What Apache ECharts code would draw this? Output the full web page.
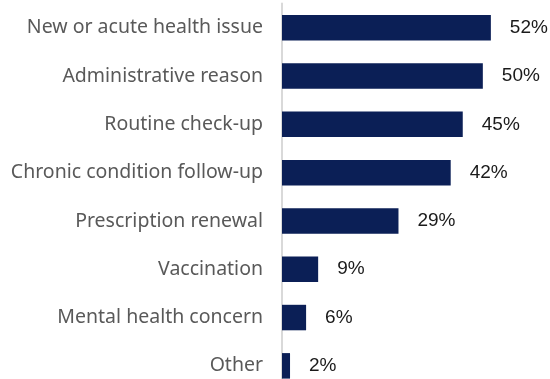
<!DOCTYPE html>
<html>
<head>
<meta charset="utf-8">
<style>
  html, body { margin: 0; padding: 0; background: #fff; }
  #chart { width: 550px; height: 379px; }
</style>
<script src="https://cdn.jsdelivr.net/npm/echarts@6/dist/echarts.min.js"></script>
</head>
<body>
<div id="chart"></div>
<script>
// Reasons for the visit, top to bottom
const categories = [
  'New or acute health issue',
  'Administrative reason',
  'Routine check-up',
  'Chronic condition follow-up',
  'Prescription renewal',
  'Vaccination',
  'Mental health concern',
  'Other'
];
// Share of respondents (%)
const values = [52, 50, 45, 42, 29, 9, 6, 2];

const chart = echarts.init(document.getElementById('chart'), null, { renderer: 'canvas' });

chart.setOption({
  animation: false,
  grid: {
    left: 282,
    top: 3.6,
    width: 241,
    height: 386.4,
    containLabel: false,
    outerBoundsMode: 'none'
  },
  xAxis: {
    type: 'value',
    min: 0,
    max: 60,
    show: false
  },
  yAxis: {
    type: 'category',
    data: categories,
    inverse: true,
    axisLine: { show: true, lineStyle: { color: '#d9d9d9', width: 2 } },
    axisTick: { show: false },
    axisLabel: {
      margin: 19,
      color: '#595959',
      fontSize: 19.5,
      fontFamily: 'Noto Sans'
    }
  },
  series: [{
    type: 'bar',
    data: values,
    barWidth: 25.5,
    itemStyle: { color: '#0b1f56' },
    label: {
      show: true,
      position: 'right',
      distance: 19,
      formatter: p => p.value + '%',
      color: '#1a1a1a',
      fontSize: 19,
      fontFamily: 'Liberation Sans'
    }
  }]
});
</script>
</body>
</html>
